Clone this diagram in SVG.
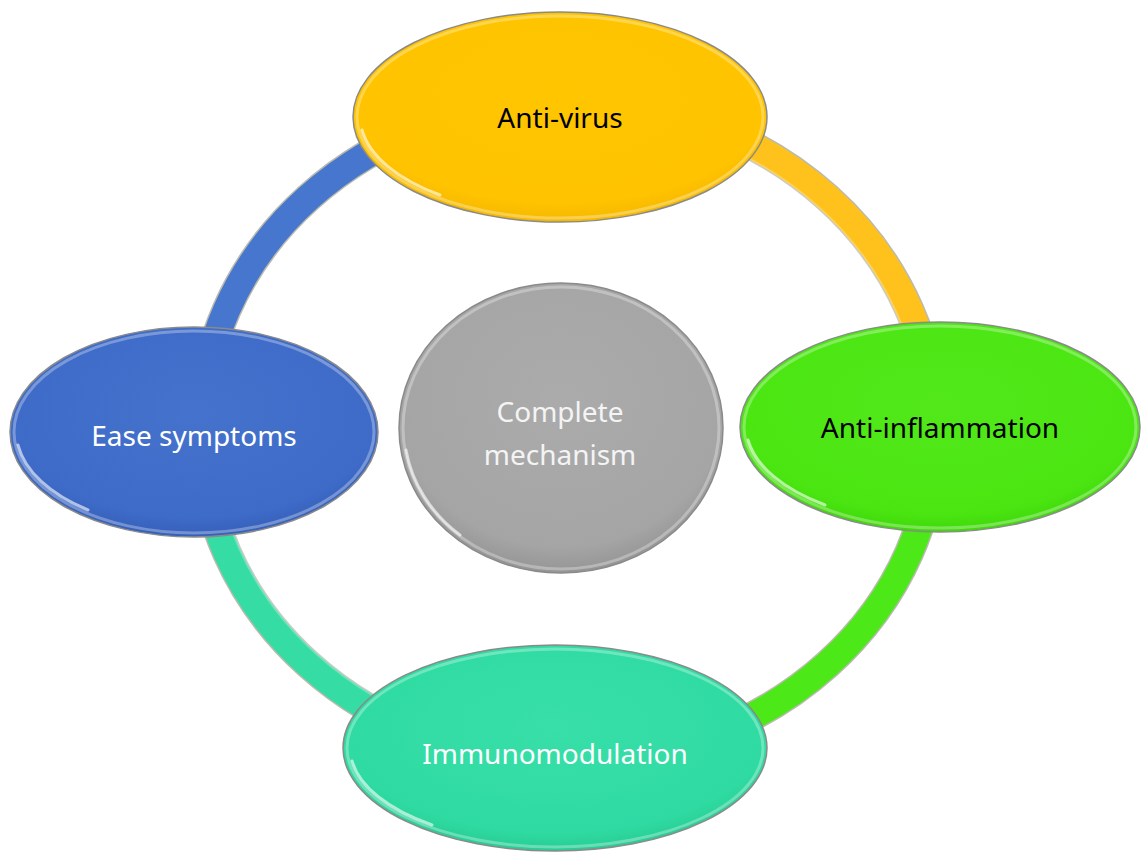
<svg xmlns="http://www.w3.org/2000/svg" width="1142" height="856" viewBox="0 0 1142 856">
<defs>
<style>
.lbl{font-family:"Noto Sans","Open Sans","DejaVu Sans",sans-serif;font-size:28px;text-anchor:middle}
.dark{fill:#000}
.light{fill:#fff}
.edge{fill:none;stroke:#8a8a8a;stroke-width:1.5}
.rim{fill:none;stroke:#ffffff;stroke-opacity:0.3;stroke-width:3}
.glint{fill:none;stroke:#ffffff;stroke-opacity:0.6;stroke-width:3;stroke-linecap:round}
.band-o{fill:none;stroke-width:30;stroke:#8c8c7a;stroke-opacity:0.6}
.band{fill:none;stroke-width:27}
.band-h{fill:none;stroke-width:6;stroke:#ffffff;stroke-opacity:0.25}
</style>
<radialGradient id="gY" cx="50%" cy="40%" r="60%"><stop offset="0" stop-color="#FFC600"/><stop offset="0.85" stop-color="#FFC300"/><stop offset="1" stop-color="#F5B800"/></radialGradient>
<radialGradient id="gG" cx="50%" cy="40%" r="60%"><stop offset="0" stop-color="#52E81A"/><stop offset="0.85" stop-color="#4BE612"/><stop offset="1" stop-color="#3FD70A"/></radialGradient>
<radialGradient id="gB" cx="50%" cy="40%" r="60%"><stop offset="0" stop-color="#4472CC"/><stop offset="0.85" stop-color="#3E6BC8"/><stop offset="1" stop-color="#3560BA"/></radialGradient>
<radialGradient id="gT" cx="50%" cy="40%" r="60%"><stop offset="0" stop-color="#38DFA8"/><stop offset="0.85" stop-color="#2FDBA2"/><stop offset="1" stop-color="#27CC94"/></radialGradient>
<radialGradient id="gC" cx="50%" cy="40%" r="60%"><stop offset="0" stop-color="#ABABAB"/><stop offset="0.85" stop-color="#A5A5A5"/><stop offset="1" stop-color="#959595"/></radialGradient>
</defs>
<rect width="1142" height="856" fill="#ffffff"/>
<g id="connectors">
<path class="band-o" d="M 568 101 A 367 330 0 0 1 935 431"/>
<path class="band" stroke="#FFC21C" d="M 568 101 A 367 330 0 0 1 935 431"/>
<path class="band-o" d="M 935 431 A 367 330 0 0 1 568 761"/>
<path class="band" stroke="#4CE818" d="M 935 431 A 367 330 0 0 1 568 761"/>
<path class="band-o" d="M 568 761 A 367 330 0 0 1 201 431"/>
<path class="band" stroke="#35DDA5" d="M 568 761 A 367 330 0 0 1 201 431"/>
<path class="band-o" d="M 201 431 A 367 330 0 0 1 568 101"/>
<path class="band" stroke="#4676CE" d="M 201 431 A 367 330 0 0 1 568 101"/>
<path class="band-h" d="M 568 116 A 352 315 0 0 1 920 431"/>
<path class="band-h" d="M 568 746 A 352 315 0 0 1 216 431"/>
</g>
<g id="node-antivirus">
<ellipse cx="560" cy="117" rx="207" ry="105" fill="url(#gY)"/>
<ellipse cx="560" cy="117" rx="203" ry="101" class="rim"/>
<path class="glint" d="M 362 130 A 200 98 0 0 0 440 195"/>
<ellipse cx="560" cy="117" rx="207" ry="105" class="edge"/>
<text x="560" y="128" class="lbl dark">Anti-virus</text>
</g>
<g id="node-antiinflammation">
<ellipse cx="940" cy="427" rx="200" ry="105" fill="url(#gG)"/>
<ellipse cx="940" cy="427" rx="196" ry="101" class="rim"/>
<path class="glint" d="M 748 440 A 193 98 0 0 0 825 505"/>
<ellipse cx="940" cy="427" rx="200" ry="105" class="edge"/>
<text x="940" y="438" class="lbl dark">Anti-inflammation</text>
</g>
<g id="node-immunomodulation">
<ellipse cx="555" cy="748" rx="212" ry="103" fill="url(#gT)"/>
<ellipse cx="555" cy="748" rx="208" ry="99" class="rim"/>
<path class="glint" d="M 352 761 A 205 96 0 0 0 432 825"/>
<ellipse cx="555" cy="748" rx="212" ry="103" class="edge"/>
<text x="555" y="764" class="lbl light">Immunomodulation</text>
</g>
<g id="node-easesymptoms">
<ellipse cx="194" cy="432" rx="184" ry="105" fill="url(#gB)"/>
<ellipse cx="194" cy="432" rx="180" ry="101" class="rim"/>
<path class="glint" d="M 18 445 A 177 98 0 0 0 88 510"/>
<ellipse cx="194" cy="432" rx="184" ry="105" class="edge"/>
<text x="194" y="446" class="lbl light">Ease symptoms</text>
</g>
<g id="node-complete">
<ellipse cx="561" cy="428" rx="162" ry="145" fill="url(#gC)"/>
<ellipse cx="561" cy="428" rx="158" ry="141" class="rim"/>
<path class="glint" d="M 406 450 A 156 139 0 0 0 460 535"/>
<ellipse cx="561" cy="428" rx="162" ry="145" class="edge"/>
<text x="560" y="422" class="lbl" fill="#f4f4f4">Complete</text>
<text x="560" y="465" class="lbl" fill="#f4f4f4">mechanism</text>
</g>
</svg>
